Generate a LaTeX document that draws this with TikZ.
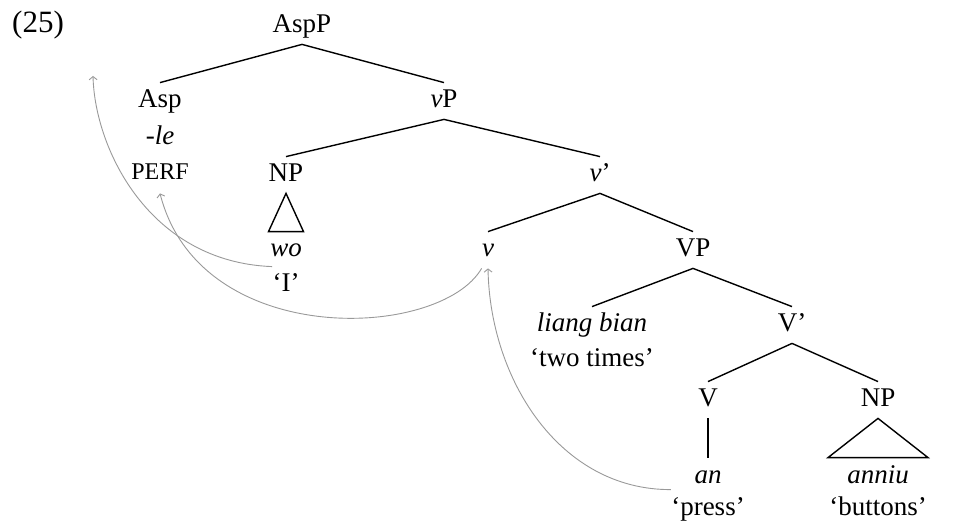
\documentclass[tikz,border=0pt]{standalone}
\usepackage{fontspec}
\setmainfont{Liberation Serif}
\usetikzlibrary{arrows.meta}
\begin{document}
\begin{tikzpicture}[x=0.5pt,y=-0.5pt,
  every node/.style={font=\fontsize{13.5}{15}\selectfont, inner xsep=0pt, inner ysep=2.5pt, text height=10pt, text depth=3pt, anchor=base},
  branch/.style={line width=0.7pt, black},
  move/.style={line width=0.45pt, gray!80, -{Straight Barb[length=1.6pt,width=4pt]}},
  smallcap/.style={font=\fontsize{12}{13}\selectfont},
  exnum/.style={font=\fontsize{15.5}{17}\selectfont}]
\useasboundingbox (0,0) rectangle (961,522);
% labels
\node[exnum] (ex) at (38,33) {(25)};
\node (AspP) at (302,33) {AspP};
\node (Asp) at (160,108) {Asp};
\node (le) at (160,145) {\textit{-le}};
\node[smallcap] (PERF) at (160,180) {PERF};
\node (vP) at (444,108) {\textit{v}P};
\node (NPa) at (286,182) {NP};
\node (wo) at (286,257) {\textit{wo}};
\node (I) at (286,292) {‘I’};
\node (vbar) at (600,182) {\textit{v}’};
\node (v) at (488,257) {\textit{v}};
\node (VP) at (693,257) {VP};
\node (lb) at (592,332) {\textit{liang bian}};
\node (tt) at (592,367) {‘two times’};
\node (Vbar) at (792,332) {V’};
\node (V) at (708,407) {V};
\node (NPb) at (878,407) {NP};
\node (an) at (708,483) {\textit{an}};
\node (press) at (708,515) {‘press’};
\node (anniu) at (878,483) {\textit{anniu}};
\node (buttons) at (878,515) {‘buttons’};
\coordinate (top) at (93,76);
% branches
\draw[branch] (AspP.south) -- (Asp.north);
\draw[branch] (AspP.south) -- (vP.north);
\draw[branch] (vP.south) -- (NPa.north);
\draw[branch] (vP.south) -- (vbar.north);
\draw[branch] (vbar.south) -- (v.north);
\draw[branch] (vbar.south) -- (VP.north);
\draw[branch] (VP.south) -- (lb.north);
\draw[branch] (VP.south) -- (Vbar.north);
\draw[branch] (Vbar.south) -- (V.north);
\draw[branch] (Vbar.south) -- (NPb.north);
\draw[branch] (V.south) -- (an.north);
\draw[branch] (NPa.south) -- ([xshift=-8.75pt]wo.north) -- ([xshift=8.75pt]wo.north) -- cycle;
\draw[branch] (NPb.south) -- ([xshift=-25pt]anniu.north) -- ([xshift=25pt]anniu.north) -- cycle;
% movement arrows
\draw[move] (I.north west) .. controls (150,262) and (95,150) .. (top);
\draw[move] (v.south west) .. controls (440,340) and (200,350) .. ([yshift=-1]PERF.south);
\draw[move] (press.north west) .. controls (560,490) and (490,380) .. (v.south);
\end{tikzpicture}
\end{document}
